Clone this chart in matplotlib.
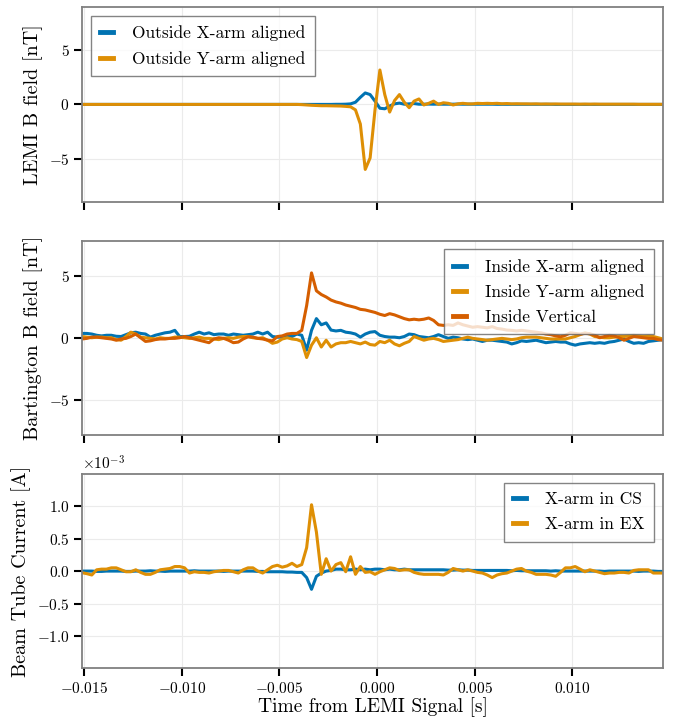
import numpy as np
import matplotlib
matplotlib.use("Agg")
import matplotlib.pyplot as plt
from matplotlib.ticker import MultipleLocator

plt.rcParams['font.family'] = 'serif'
plt.rcParams['font.serif'] = ['cmr10']
plt.rcParams['mathtext.fontset'] = 'cm'
plt.rcParams['axes.formatter.use_mathtext'] = True

# time grid of the samples (s)
t_start = -0.0151
t_step = 0.00025
n_samples = 120
time = t_start + t_step * np.arange(n_samples)

# LEMI magnetometer, outside (nT)
outside_x = [
    0.0, 0.0, 0.0, 0.0, 0.0, 0.0, 0.0, 0.0, 0.0, 0.0,
    0.0, 0.0, 0.0, 0.0, 0.0, 0.0, 0.0, 0.0, 0.0, 0.0,
    0.0, 0.0, 0.0, 0.0, 0.0, 0.0, 0.0, 0.0, 0.0, 0.0,
    0.0, 0.0, 0.0, 0.0, 0.0, 0.0, 0.0, 0.0, 0.0, 0.0,
    0.0, 0.0, 0.0, 0.0, 0.0, 0.0, 0.0, 0.0, 0.0, 0.0,
    0.0, 0.0, 0.01, 0.01, 0.02, 0.05, 0.2, 0.65, 1.05, 0.9,
    0.3, -0.35, -0.4, -0.15, 0.05, 0.12, 0.02, 0.05, 0.08, 0.02,
    0.02, 0.03, 0.02, 0.03, 0.02, 0.02, 0.02, 0.03, 0.02, 0.02,
    0.02, 0.02, 0.02, 0.02, 0.02, 0.01, 0.01, 0.01, 0.01, 0.01,
    0.01, 0.01, 0.01, 0.01, 0.01, 0.01, 0.01, 0.0, 0.0, 0.0,
    0.0, 0.0, 0.0, 0.0, 0.0, 0.0, 0.0, 0.0, 0.0, 0.0,
    0.0, 0.0, 0.0, 0.0, 0.0, 0.0, 0.0, 0.0, 0.0, 0.0,
]
outside_y = [
    0.0, 0.0, 0.0, 0.0, 0.0, 0.0, 0.0, 0.0, 0.0, 0.0,
    0.0, 0.0, 0.0, 0.0, 0.0, 0.0, 0.0, 0.0, 0.0, 0.0,
    0.0, 0.0, 0.0, 0.0, 0.0, 0.0, 0.0, 0.0, 0.0, 0.0,
    0.0, 0.0, 0.0, 0.0, 0.0, 0.0, 0.0, 0.0, 0.0, 0.0,
    0.0, 0.0, 0.0, 0.0, 0.0, -0.02, -0.05, -0.08, -0.1, -0.12,
    -0.12, -0.13, -0.14, -0.15, -0.18, -0.22, -0.5, -1.8, -5.95, -4.9,
    -0.5, 3.15, 0.9, -0.7, 0.35, 0.9, 0.2, -0.3, 0.3, 0.5,
    -0.05, 0.1, 0.3, 0.0, 0.15, 0.1, -0.05, 0.05, 0.1, 0.05,
    0.05, 0.1, 0.08, 0.1, 0.08, 0.1, 0.06, 0.08, 0.05, 0.06,
    0.05, 0.05, 0.04, 0.05, 0.03, 0.04, 0.03, 0.04, 0.03, 0.03,
    0.03, 0.03, 0.02, 0.03, 0.02, 0.03, 0.02, 0.02, 0.02, 0.02,
    0.02, 0.02, 0.02, 0.02, 0.01, 0.01, 0.01, 0.01, 0.01, 0.01,
]

# Bartington magnetometers, inside (nT)
inside_x = [
    0.35, 0.35, 0.3, 0.2, 0.15, 0.2, 0.2, 0.12, 0.1, 0.25,
    0.4, 0.45, 0.35, 0.3, 0.05, 0.2, 0.3, 0.4, 0.45, 0.6,
    0.1, 0.1, 0.12, 0.3, 0.45, 0.3, 0.4, 0.25, 0.3, 0.3,
    0.2, 0.3, 0.25, 0.2, 0.25, 0.3, 0.45, 0.3, 0.45, 0.1,
    0.05, 0.05, 0.2, 0.1, 0.3, 0.2, -1.0, 0.6, 1.55, 1.05,
    1.2, 0.62, 0.55, 0.6, 0.45, 0.4, 0.3, 0.05, 0.3, 0.45,
    0.5, 0.2, 0.1, 0.05, 0.05, 0.0, 0.1, 0.3, 0.25, 0.1,
    0.05, 0.0, 0.1, 0.25, 0.1, -0.05, 0.05, 0.0, -0.1, -0.15,
    -0.1, -0.2, -0.3, -0.2, -0.2, -0.25, -0.3, -0.35, -0.5, -0.4,
    -0.25, -0.3, -0.25, -0.2, -0.3, -0.4, -0.35, -0.3, -0.35, -0.35,
    -0.5, -0.6, -0.5, -0.45, -0.4, -0.45, -0.4, -0.45, -0.35, -0.3,
    -0.2, -0.1, -0.3, -0.45, -0.4, -0.45, -0.3, -0.25, -0.2, -0.15,
]
inside_y = [
    0.1, 0.05, 0.0, 0.05, 0.05, 0.0, 0.0, -0.15, -0.2, 0.1,
    0.45, 0.3, 0.05, 0.0, -0.05, -0.1, 0.0, -0.05, -0.05, 0.05,
    0.05, 0.0, -0.05, 0.0, 0.05, -0.05, -0.05, -0.1, -0.15, -0.05,
    0.0, -0.05, 0.05, 0.1, 0.1, 0.0, -0.05, 0.0, -0.2, -0.45,
    -0.35, -0.1, 0.0, -0.1, -0.15, -0.3, -1.6, -0.6, 0.0, -0.75,
    -0.2, -0.75, -0.5, -0.4, -0.4, -0.3, -0.4, -0.5, -0.35, -0.55,
    -0.6, -0.3, -0.4, -0.2, -0.5, -0.65, -0.45, -0.3, 0.1, -0.05,
    -0.2, -0.1, -0.05, -0.15, -0.3, -0.25, -0.2, -0.15, -0.05, 0.05,
    -0.05, -0.1, -0.15, -0.2, -0.15, -0.1, -0.05, -0.1, -0.15, -0.1,
    0.0, 0.05, 0.05, 0.05, 0.0, -0.05, -0.1, -0.1, -0.1, -0.1,
    0.0, 0.1, 0.25, 0.4, 0.3, 0.1, 0.05, 0.0, 0.0, 0.05,
    0.1, 0.1, 0.15, 0.2, 0.15, 0.1, 0.15, 0.1, 0.0, -0.1,
]
inside_z = [
    -0.1, -0.05, 0.05, 0.05, 0.0, -0.05, -0.1, -0.2, -0.1, -0.05,
    0.1, 0.3, 0.0, -0.3, -0.25, -0.15, -0.1, -0.1, -0.05, -0.05,
    0.0, 0.1, 0.0, -0.1, -0.2, -0.3, -0.4, -0.1, 0.0, -0.05,
    -0.2, -0.4, -0.35, -0.1, 0.08, 0.05, -0.05, -0.1, -0.2, -0.25,
    0.1, 0.15, 0.3, 0.35, 0.35, 0.6, 2.6, 5.25, 3.8, 3.5,
    3.3, 3.05, 2.9, 2.8, 2.65, 2.55, 2.45, 2.3, 2.25, 2.15,
    2.05, 1.9, 1.8, 1.95, 1.85, 1.7, 1.55, 1.45, 1.5, 1.45,
    1.5, 1.6, 1.4, 1.05, 1.0, 1.05, 1.0, 1.2, 1.05, 0.95,
    0.85, 0.9, 0.85, 0.8, 0.9, 0.75, 0.7, 0.62, 0.6, 0.55,
    0.6, 0.55, 0.5, 0.45, 0.4, 0.3, 0.25, 0.15, 0.08, 0.2,
    0.4, 0.35, 0.3, 0.35, 0.33, 0.2, 0.0, 0.1, 0.2, 0.15,
    0.0, -0.2, -0.05, 0.1, 0.05, 0.0, -0.05, -0.05, -0.15, -0.2,
]

# beam tube current (units of 1e-3 A)
xarm_cs = [
    0.0, 0.0, 0.0, -0.005, -0.005, 0.0, 0.0, 0.0, 0.0, -0.005,
    -0.005, 0.0, 0.0, 0.0, 0.005, 0.0, 0.0, -0.005, 0.0, 0.0,
    0.0, 0.0, 0.0, 0.005, 0.0, 0.0, 0.0, 0.0, 0.0, -0.005,
    0.0, 0.0, 0.0, 0.0, 0.0, 0.0, -0.005, -0.005, -0.01, -0.01,
    -0.01, -0.01, -0.015, -0.015, -0.02, -0.02, -0.1, -0.28, -0.08, -0.03,
    0.0, 0.01, 0.03, 0.03, 0.02, 0.02, 0.03, 0.02, 0.03, 0.02,
    0.03, 0.03, 0.02, 0.03, 0.02, 0.02, 0.03, 0.02, 0.02, 0.02,
    0.02, 0.02, 0.02, 0.02, 0.02, 0.015, 0.015, 0.02, 0.015, 0.015,
    0.01, 0.01, 0.01, 0.01, 0.01, 0.01, 0.01, 0.01, 0.005, 0.01,
    0.005, 0.005, 0.005, 0.005, 0.005, 0.005, 0.0, 0.005, 0.0, 0.0,
    0.0, 0.0, 0.0, 0.0, 0.0, 0.0, 0.0, -0.005, 0.0, 0.0,
    0.0, 0.0, 0.0, 0.0, -0.005, 0.0, 0.0, 0.0, -0.005, -0.005,
]
xarm_ex = [
    -0.025, -0.04, -0.06, 0.02, 0.03, 0.03, 0.05, 0.05, 0.02, -0.01,
    -0.01, 0.02, -0.02, -0.05, -0.05, -0.02, 0.02, 0.03, 0.04, 0.07,
    0.07, 0.05, -0.03, -0.01, -0.02, -0.02, -0.03, -0.01, 0.0, 0.01,
    0.01, -0.01, -0.03, 0.02, 0.05, 0.05, 0.0, -0.03, 0.02, 0.07,
    0.09, 0.06, 0.08, 0.12, 0.07, 0.1, 0.36, 1.02, 0.6, -0.05,
    0.19, 0.0, 0.1, 0.13, -0.01, 0.22, -0.05, 0.07, -0.02, -0.01,
    -0.05, -0.01, 0.02, 0.05, 0.04, 0.01, 0.02, 0.02, -0.02, -0.04,
    -0.05, -0.05, -0.05, -0.05, -0.06, -0.02, 0.04, 0.02, 0.0, 0.02,
    0.0, -0.02, -0.03, -0.06, -0.1, -0.06, -0.04, -0.03, 0.0, 0.03,
    0.04, 0.0, -0.02, -0.05, -0.05, -0.05, -0.06, -0.08, -0.02, 0.05,
    0.05, 0.07, 0.03, -0.01, 0.02, 0.0, -0.02, -0.04, -0.03, -0.03,
    -0.02, -0.02, -0.03, 0.01, 0.02, 0.02, 0.02, -0.03, -0.03, -0.03,
]

blue = '#0173b2'
orange = '#de8f05'
red = '#d55e00'

fig, axes = plt.subplots(3, 1, sharex=True, figsize=(6.78, 7.19), dpi=100)
fig.subplots_adjust(left=0.121, right=0.978, top=0.990, bottom=0.0705, hspace=0.2)

ax1, ax2, ax3 = axes
ax1.plot(time, outside_x, color=blue, lw=2.2, label='Outside X-arm aligned')
ax1.plot(time, outside_y, color=orange, lw=2.2, label='Outside Y-arm aligned')
ax1.set_ylim(-8.9, 8.9)
ax1.yaxis.set_major_locator(MultipleLocator(5))
ax1.set_ylabel('LEMI B field [nT]', fontsize=14.5)

ax2.plot(time, inside_x, color=blue, lw=2.2, label='Inside X-arm aligned')
ax2.plot(time, inside_y, color=orange, lw=2.2, label='Inside Y-arm aligned')
ax2.plot(time, inside_z, color=red, lw=2.2, label='Inside Vertical')
ax2.set_ylim(-7.87, 7.87)
ax2.yaxis.set_major_locator(MultipleLocator(5))
ax2.set_ylabel('Bartington B field [nT]', fontsize=14.5)

ax3.plot(time, np.array(xarm_cs) * 1e-3, color=blue, lw=2.2, label='X-arm in CS')
ax3.plot(time, np.array(xarm_ex) * 1e-3, color=orange, lw=2.2, label='X-arm in EX')
ax3.set_ylim(-1.495e-3, 1.495e-3)
ax3.yaxis.set_major_locator(MultipleLocator(0.5e-3))
ax3.set_ylabel('Beam Tube Current [A]', fontsize=14.5)
ax3.set_xlabel('Time from LEMI Signal [s]', fontsize=14, labelpad=1)
ax3.set_xlim(time[0], time[-1])
ax3.xaxis.set_major_locator(MultipleLocator(0.005))
ax3.ticklabel_format(axis='y', style='sci', scilimits=(-3, -3))
ax3.yaxis.get_offset_text().set_fontsize(11)

for ax, loc in zip(axes, ['upper left', 'upper right', 'upper right']):
    ax.grid(True, color='#ebebeb', lw=0.8)
    ax.set_axisbelow(True)
    for s in ax.spines.values():
        s.set_color('#808080')
        s.set_linewidth(1.3)
    ax.tick_params(axis='both', which='major', length=6, width=1.5,
                   color='black', labelsize=11, pad=3)
    leg = ax.legend(loc=loc, fontsize=12.5, fancybox=False, framealpha=0.8,
                    edgecolor='#666666', handlelength=0.75, handletextpad=1.1,
                    borderpad=0.55, labelspacing=0.55)
    leg.get_frame().set_linewidth(1.0)
    for h in leg.legend_handles:
        h.set_linewidth(3.5)

fig.savefig('out.png', dpi=100)
